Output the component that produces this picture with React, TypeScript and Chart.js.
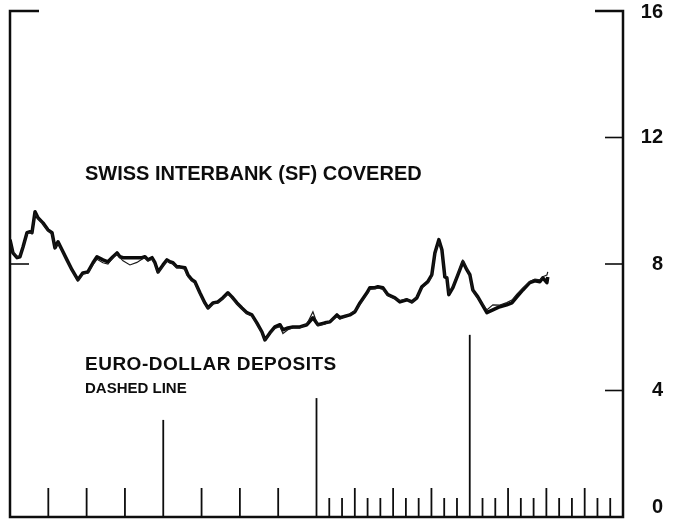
import React, { useEffect, useRef } from "react";
import { Chart, registerables } from "chart.js";

Chart.register(...registerables);

// Months since start of the chart (4 years shown: 0..48)
const months = [
  0.0, 0.23, 0.55, 0.78, 1.02, 1.33, 1.57, 1.72, 1.96, 2.19, 2.58, 2.97, 3.29, 3.52, 3.76, 4.07, 4.46, 4.85, 5.32, 5.71,
  6.1, 6.5, 6.81, 7.28, 7.67, 8.06, 8.38, 8.61, 8.85, 9.39, 9.94, 10.33, 10.57, 10.8, 11.12, 11.35, 11.59, 11.98, 12.29, 12.52,
  12.76, 13.07, 13.31, 13.7, 13.93, 14.25, 14.48, 14.87, 15.26, 15.5, 15.89, 16.28, 16.67, 17.06, 17.38, 17.77, 18.16, 18.55, 18.94, 19.33,
  19.73, 19.96, 20.35, 20.74, 21.14, 21.37, 21.76, 22.15, 22.7, 23.25, 23.72, 24.11, 24.66, 25.05, 25.6, 25.83, 26.61, 27.01, 27.4, 27.95,
  28.18, 28.57, 28.81, 29.2, 29.59, 30.14, 30.53, 31.08, 31.47, 31.86, 32.25, 32.72, 33.03, 33.27, 33.58, 33.82, 34.05, 34.21, 34.36, 34.68,
  35.07, 35.46, 35.77, 36.01, 36.24, 36.63, 37.34, 37.81, 38.36, 38.9, 39.3, 39.69, 40.16, 40.7, 41.1, 41.49, 41.72, 42.04, 42.11,
];

// Swiss interbank (SF) covered — heavy line
const swissCovered = [
  8.77, 8.35, 8.2, 8.23, 8.54, 8.99, 9.02, 8.99, 9.65, 9.46, 9.3, 9.08, 8.99, 8.51, 8.7, 8.45, 8.13, 7.82, 7.5, 7.72,
  7.75, 8.04, 8.23, 8.13, 8.07, 8.23, 8.35, 8.23, 8.2, 8.2, 8.2, 8.2, 8.23, 8.13, 8.2, 8.04, 7.75, 7.97, 8.13, 8.07,
  8.04, 7.91, 7.91, 7.88, 7.66, 7.5, 7.44, 7.09, 6.77, 6.61, 6.77, 6.8, 6.93, 7.09, 6.96, 6.77, 6.61, 6.46, 6.39, 6.14,
  5.85, 5.6, 5.82, 6.01, 6.08, 5.92, 5.98, 6.01, 6.01, 6.08, 6.3, 6.08, 6.14, 6.17, 6.39, 6.3, 6.39, 6.49, 6.77, 7.09,
  7.25, 7.25, 7.28, 7.25, 7.03, 6.93, 6.8, 6.87, 6.8, 6.93, 7.28, 7.44, 7.66, 8.35, 8.77, 8.45, 7.59, 7.56, 7.03, 7.25,
  7.66, 8.07, 7.82, 7.66, 7.18, 6.96, 6.46, 6.55, 6.65, 6.71, 6.77, 6.96, 7.18, 7.41, 7.47, 7.44, 7.56, 7.41, 7.59,
];

// Euro-dollar deposits — thin line
const euroDollar = [
  8.77, 8.38, 8.22, 8.25, 8.52, 8.95, 9.0, 8.97, 9.6, 9.44, 9.27, 9.05, 8.95, 8.5, 8.66, 8.42, 8.1, 7.8, 7.47, 7.68,
  7.72, 7.98, 8.15, 8.04, 8.0, 8.2, 8.32, 8.2, 8.1, 7.97, 8.05, 8.15, 8.2, 8.1, 8.16, 8.0, 7.72, 7.93, 8.1, 8.04,
  8.0, 7.88, 7.88, 7.84, 7.6, 7.46, 7.4, 7.05, 6.74, 6.6, 6.74, 6.78, 6.9, 7.05, 6.93, 6.74, 6.58, 6.43, 6.36, 6.1,
  5.82, 5.6, 5.8, 5.96, 6.02, 5.8, 5.92, 5.98, 5.98, 6.1, 6.49, 6.05, 6.1, 6.2, 6.34, 6.26, 6.42, 6.52, 6.72, 7.05,
  7.2, 7.22, 7.24, 7.2, 7.0, 6.9, 6.84, 6.9, 6.78, 6.96, 7.24, 7.4, 7.6, 8.3, 8.7, 8.4, 7.62, 7.6, 7.08, 7.3,
  7.7, 8.12, 7.86, 7.62, 7.15, 6.92, 6.55, 6.71, 6.7, 6.78, 6.86, 7.05, 7.24, 7.45, 7.52, 7.5, 7.6, 7.65, 7.75,
];

const yTicks = [0, 4, 8, 12, 16];
const yearMarks = [12, 24, 36];
const yearMarkTops = [3.07, 3.76, 5.76];
const totalMonths = 48;

const overlay = {
  id: "overlay",
  afterDatasetsDraw(chart: any) {
    const { ctx, chartArea: a, scales } = chart;
    const x = scales.x;
    const y = scales.y;
    const ink = "#0d0d0d";
    ctx.save();
    ctx.strokeStyle = ink;
    ctx.fillStyle = ink;
    ctx.lineCap = "butt";

    // frame: left, right, bottom axes plus top brackets
    ctx.lineWidth = 2.5;
    ctx.beginPath();
    ctx.moveTo(a.left + 29, a.top);
    ctx.lineTo(a.left, a.top);
    ctx.lineTo(a.left, a.bottom);
    ctx.lineTo(a.right, a.bottom);
    ctx.lineTo(a.right, a.top);
    ctx.lineTo(a.right - 28, a.top);
    ctx.stroke();

    // inward y ticks
    ctx.lineWidth = 1.6;
    yTicks.forEach((v) => {
      if (v === 0 || v === 16) return;
      const py = y.getPixelForValue(v);
      ctx.beginPath();
      ctx.moveTo(a.right, py);
      ctx.lineTo(a.right - 18, py);
      ctx.stroke();
    });
    const p8 = y.getPixelForValue(8);
    ctx.beginPath();
    ctx.moveTo(a.left, p8);
    ctx.lineTo(a.left + 19, p8);
    ctx.stroke();

    // bottom month / quarter / year ticks
    const base = a.bottom;
    for (let m = 1; m < totalMonths; m++) {
      const px = x.getPixelForValue(m);
      let top: number | null = null;
      const yi = yearMarks.indexOf(m);
      if (yi >= 0) top = y.getPixelForValue(yearMarkTops[yi]);
      else if (m % 3 === 0) top = base - 29;
      else if (m > 24) top = base - 19;
      if (top === null) continue;
      ctx.lineWidth = 1.8;
      ctx.beginPath();
      ctx.moveTo(px, base);
      ctx.lineTo(px, top);
      ctx.stroke();
    }

    // y labels at right
    ctx.font = 'bold 20px "Liberation Sans", Arial, sans-serif';
    ctx.textAlign = "right";
    ctx.textBaseline = "middle";
    yTicks.forEach((v) => {
      let py = y.getPixelForValue(v);
      if (v === 0) py -= 10;
      if (v === 16) py += 1;
      ctx.fillText(String(v), 663, py);
    });

    // annotations
    ctx.textAlign = "left";
    ctx.textBaseline = "alphabetic";
    ctx.font = 'bold 20px "Liberation Sans", Arial, sans-serif';
    ctx.fillText("SWISS INTERBANK (SF) COVERED", 85, 180);
    (ctx as any).letterSpacing = "0.5px";
    ctx.font = 'bold 19px "Liberation Sans", Arial, sans-serif';
    ctx.fillText("EURO-DOLLAR DEPOSITS", 85, 370);
    (ctx as any).letterSpacing = "0px";
    ctx.font = 'bold 15px "Liberation Sans", Arial, sans-serif';
    ctx.fillText("DASHED LINE", 85, 393);
    ctx.restore();
  },
};

export default function App() {
  const ref = useRef<HTMLCanvasElement | null>(null);
  useEffect(() => {
    if (!ref.current) return;
    const chart = new Chart(ref.current, {
      type: "line",
      data: {
        datasets: [
          {
            label: "Euro-dollar deposits",
            data: months.map((m, i) => ({ x: m, y: euroDollar[i] })),
            borderColor: "#1a1a1a",
            borderWidth: 1.2,
            pointRadius: 0,
            tension: 0,
            fill: false,
          },
          {
            label: "Swiss interbank (SF) covered",
            data: months.map((m, i) => ({ x: m, y: swissCovered[i] })),
            borderColor: "#0a0a0a",
            borderWidth: 3.5,
            pointRadius: 0,
            tension: 0,
            fill: false,
            borderJoinStyle: "round",
          },
        ],
      },
      options: {
        responsive: false,
        animation: false,
        layout: { padding: { left: 10, top: 11, right: 57, bottom: 3 } },
        plugins: { legend: { display: false }, tooltip: { enabled: false } },
        scales: {
          x: { type: "linear", min: 0, max: totalMonths, display: false },
          y: { type: "linear", min: 0, max: 16, display: false },
        },
      },
      plugins: [overlay],
    });
    return () => chart.destroy();
  }, []);
  return (
    <div style={{ position: "absolute", left: 0, top: 0, width: 680, height: 520, background: "#fff" }}>
      <canvas ref={ref} width={680} height={520} />
    </div>
  );
}
